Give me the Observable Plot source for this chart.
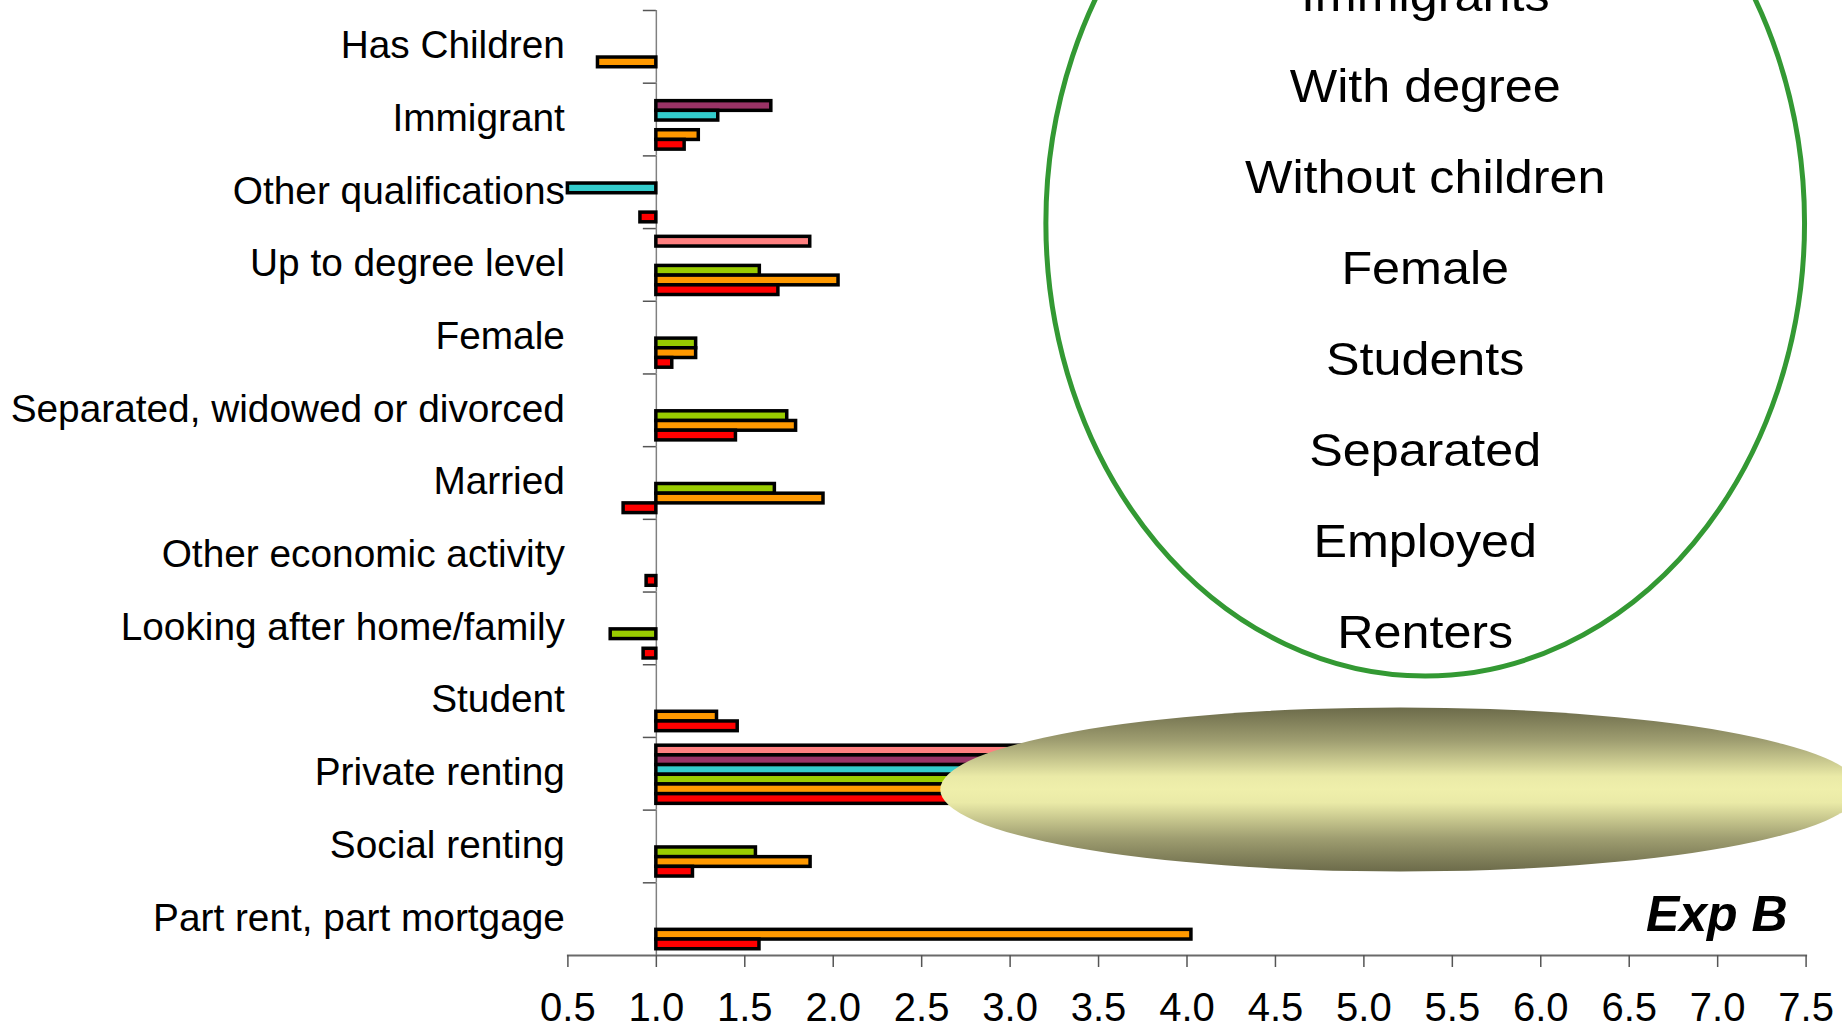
<!DOCTYPE html>
<html>
<head>
<meta charset="utf-8">
<script src="https://cdn.jsdelivr.net/npm/d3@7"></script>
<script src="https://cdn.jsdelivr.net/npm/@observablehq/plot@0.6"></script>
<style>
  html, body { margin: 0; padding: 0; overflow: hidden; background: #ffffff; }
  #chart svg { display: block; }
</style>
</head>
<body>
<div id="chart"></div>
<script>
// ---------- data ----------
const categories = [
  "Has Children",
  "Immigrant",
  "Other qualifications",
  "Up to degree level",
  "Female",
  "Separated, widowed or divorced",
  "Married",
  "Other economic activity",
  "Looking after home/family",
  "Student",
  "Private renting",
  "Social renting",
  "Part rent, part mortgage"
];

// series listed top-to-bottom inside each category group
const seriesNames  = ["Model 6", "Model 5", "Model 4", "Model 3", "Model 2", "Model 1"];
const seriesColors = ["#ff8080", "#993366", "#33cccc", "#99cc00", "#ff9900", "#ff0000"];

// Exp(B) values per category (null = not shown)
const model6 = [null, null, null, 1.87, null, null, null, null, null, null, 5.4, null, null];
const model5 = [null, 1.65, null, null, null, null, null, null, null, null, 5.9, null, null];
const model4 = [null, 1.35, 0.50, null, null, null, null, null, null, null, 5.2, null, null];
const model3 = [null, null, null, 1.585, 1.225, 1.74, 1.67, null, 0.742, null, 4.9, 1.563, null];
const model2 = [0.67, 1.24, null, 2.03, 1.225, 1.79, 1.945, null, null, 1.343, 5.3, 1.872, 4.025];
const model1 = [null, 1.16, 0.91, 1.69, 1.09, 1.45, 0.815, 0.945, 0.928, 1.46, 4.8, 1.207, 1.583];

const xTicks = [0.5, 1.0, 1.5, 2.0, 2.5, 3.0, 3.5, 4.0, 4.5, 5.0, 5.5, 6.0, 6.5, 7.0, 7.5];
const baseline = 1;

const ovalLines = ["Immigrants", "With degree", "Without children", "Female", "Students", "Separated", "Employed", "Renters"];
const cornerLabel = "Exp B";

// ---------- table ----------
const seriesValues = [model6, model5, model4, model3, model2, model1];
const rows = [];
seriesNames.forEach((s, si) => {
  categories.forEach((c, ci) => {
    const v = seriesValues[si][ci];
    if (v != null) rows.push({category: c, series: s, value: v});
  });
});

// ---------- layout ----------
const W = 1842, H = 1028;
const mL = 567.4, mR = 36.4, mT = 10, mB = 73;
const bandH = (H - mT - mB) / categories.length;
const xBasePx = mL + (baseline - xTicks[0]) / (xTicks[xTicks.length - 1] - xTicks[0]) * (W - mL - mR);
const font = "'Liberation Sans', Arial, Helvetica, sans-serif";

const chart = Plot.plot({
  width: W,
  height: H,
  marginLeft: mL,
  marginRight: mR,
  marginTop: mT,
  marginBottom: mB,
  style: {fontFamily: font, background: "#ffffff", color: "#000000"},
  x: {domain: [xTicks[0], xTicks[xTicks.length - 1]], label: null},
  y: {domain: seriesNames, paddingInner: 0, paddingOuter: 0.75, round: false, axis: null},
  fy: {domain: categories, padding: 0, round: false, label: null},
  color: {domain: seriesNames, range: seriesColors},
  marks: [
    Plot.ruleX([baseline], {stroke: "#808080", strokeWidth: 1.5}),
    Plot.barX(rows, {
      fy: "category", y: "series",
      x1: () => baseline, x2: "value",
      fill: "series", stroke: "#000000", strokeWidth: 3.5,
      insetTop: 0, insetBottom: 0, dy: 1
    }),
    Plot.frame({anchor: "bottom", facetAnchor: "bottom", stroke: "#6a6a6a", strokeWidth: 2}),
    Plot.axisX({
      ticks: xTicks, tickFormat: d3.format(".1f"),
      tickSize: 12, tickPadding: 25, fontSize: 40,
      stroke: "#555555", strokeWidth: 1.5, label: null
    }),
    Plot.axisFy({
      anchor: "left", tickSize: 13, fill: "none", label: null,
      dx: xBasePx - mL, dy: -bandH / 2,
      stroke: "#555555", strokeWidth: 1.5
    }),
    Plot.axisFy({
      anchor: "left", tickSize: 0, tickPadding: 3, fontSize: 38.8, label: null, dy: -1
    })
  ]
});

document.getElementById("chart").appendChild(chart);

// ---------- annotations (ovals + texts) ----------
const xs = chart.scale("x");
const X = v => xs.apply(v);
const svg = d3.select(chart);

const defs = svg.append("defs");
const grad = defs.append("linearGradient")
  .attr("id", "ovalGrad").attr("x1", 0).attr("y1", 0).attr("x2", 0).attr("y2", 1);
[[0, "#6c6b4a"], [0.2, "#9e9d70"], [0.42, "#eaeaa7"], [0.5, "#efefab"], [0.58, "#eaeaa7"], [0.8, "#9e9d70"], [1, "#6c6b4a"]]
  .forEach(([o, c]) => grad.append("stop").attr("offset", o).attr("stop-color", c));

// filled oval over the private-renting bars (x in data units)
const fill = {x1: 2.608, x2: 7.81, yCenter: 789.5, ry: 82};
svg.append("ellipse")
  .attr("cx", (X(fill.x1) + X(fill.x2)) / 2)
  .attr("cy", fill.yCenter)
  .attr("rx", (X(fill.x2) - X(fill.x1)) / 2)
  .attr("ry", fill.ry)
  .attr("fill", "url(#ovalGrad)");

// green outlined oval
const oval = {x1: 3.205, x2: 7.494, yTop: -230, yBottom: 676};
const ocx = (X(oval.x1) + X(oval.x2)) / 2;
svg.append("ellipse")
  .attr("cx", ocx)
  .attr("cy", (oval.yTop + oval.yBottom) / 2)
  .attr("rx", (X(oval.x2) - X(oval.x1)) / 2)
  .attr("ry", (oval.yBottom - oval.yTop) / 2)
  .attr("fill", "none")
  .attr("stroke", "#339933")
  .attr("stroke-width", 5);

const firstBase = 11, lineStep = 91;
ovalLines.forEach((t, i) => {
  svg.append("text")
    .attr("transform", `translate(${ocx},${firstBase + i * lineStep}) scale(1.07,1)`)
    .attr("text-anchor", "middle")
    .attr("font-family", font)
    .attr("font-size", 47)
    .attr("fill", "#000000")
    .text(t);
});

svg.append("text")
  .attr("x", X(7.5) - 18)
  .attr("y", 931)
  .attr("text-anchor", "end")
  .attr("font-family", font)
  .attr("font-size", 50)
  .attr("font-weight", "bold")
  .attr("font-style", "italic")
  .attr("fill", "#000000")
  .text(cornerLabel);
</script>
</body>
</html>
